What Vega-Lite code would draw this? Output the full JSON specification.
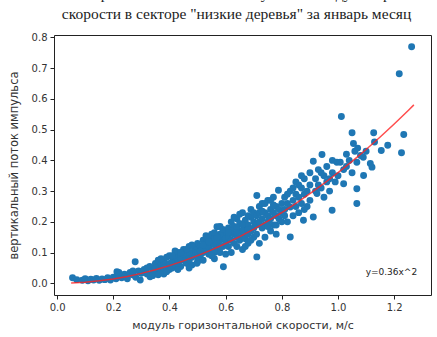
{
  "$schema": "https://vega.github.io/schema/vega-lite/v6.json",
  "autosize": {"type": "none"},
  "padding": {"left": 54, "top": 35, "right": 6, "bottom": 42},
  "width": 377,
  "height": 260,
  "background": "white",
  "title": {
    "text": ["Зависимость вертикального потока импульса от модуля горизонтальной", "скорости в секторе \"низкие деревья\" за январь месяц"],
    "font": "Liberation Serif",
    "fontSize": 15.5,
    "fontWeight": "normal",
    "color": "#222",
    "lineHeight": 20,
    "offset": 10,
    "dx": -6,
    "anchor": "middle"
  },
  "config": {
    "view": {"stroke": "#222", "strokeWidth": 1},
    "axis": {
      "grid": false,
      "domain": false,
      "tickColor": "#222",
      "tickSize": 4,
      "labelFont": "DejaVu Sans",
      "labelFontSize": 10,
      "labelColor": "#333",
      "labelPadding": 3,
      "labelOverlap": false,
      "titleFont": "DejaVu Sans",
      "titleFontSize": 11,
      "titleFontWeight": "normal",
      "titleColor": "#333"
    }
  },
  "datasets": {
    "pts": [
      {"x":0.055,"y":0.018},{"x":0.07,"y":0.012},{"x":0.09,"y":0.01},{"x":0.1,"y":0.015},{"x":0.11,"y":0.008},{"x":0.12,"y":0.013},{"x":0.13,"y":0.011},{"x":0.14,"y":0.016},{"x":0.15,"y":0.01},{"x":0.16,"y":0.014},{"x":0.17,"y":0.012},{"x":0.18,"y":0.018},{"x":0.19,"y":0.011},{"x":0.2,"y":0.02},{"x":0.21,"y":0.015},{"x":0.213,"y":0.038},
      {"x":0.22,"y":0.025},{"x":0.23,"y":0.018},{"x":0.24,"y":0.03},{"x":0.25,"y":0.022},{"x":0.26,"y":0.035},{"x":0.27,"y":0.028},{"x":0.278,"y":0.07},{"x":0.28,"y":0.02},{"x":0.29,"y":0.04},{"x":0.296,"y":0.011},{"x":0.3,"y":0.033},{"x":0.25,"y":0.015},{"x":0.27,"y":0.04},{"x":0.22,"y":0.035},
      {"x":0.31,"y":0.045},{"x":0.32,"y":0.03},{"x":0.331,"y":0.021},{"x":0.33,"y":0.055},{"x":0.34,"y":0.04},{"x":0.35,"y":0.065},{"x":0.35,"y":0.035},{"x":0.36,"y":0.05},{"x":0.36,"y":0.075},{"x":0.37,"y":0.045},{"x":0.37,"y":0.06},{"x":0.38,"y":0.03},{"x":0.38,"y":0.07},{"x":0.39,"y":0.055},{"x":0.39,"y":0.085},{"x":0.4,"y":0.045},{"x":0.4,"y":0.065},{"x":0.34,"y":0.025},{"x":0.36,"y":0.028},{"x":0.38,"y":0.05},{"x":0.32,"y":0.05},{"x":0.35,"y":0.05},{"x":0.37,"y":0.08},{"x":0.39,"y":0.038},{"x":0.4,"y":0.09},
      {"x":0.41,"y":0.07},{"x":0.41,"y":0.05},{"x":0.42,"y":0.085},{"x":0.42,"y":0.06},{"x":0.43,"y":0.1},{"x":0.43,"y":0.072},{"x":0.44,"y":0.055},{"x":0.44,"y":0.09},{"x":0.45,"y":0.08},{"x":0.45,"y":0.11},{"x":0.46,"y":0.065},{"x":0.46,"y":0.095},{"x":0.47,"y":0.075},{"x":0.47,"y":0.12},{"x":0.48,"y":0.085},{"x":0.48,"y":0.1},{"x":0.48,"y":0.06},{"x":0.49,"y":0.09},{"x":0.49,"y":0.115},{"x":0.5,"y":0.07},{"x":0.5,"y":0.1},{"x":0.5,"y":0.13},{"x":0.42,"y":0.105},{"x":0.44,"y":0.075},{"x":0.46,"y":0.08},{"x":0.47,"y":0.1},{"x":0.43,"y":0.065},{"x":0.45,"y":0.095},{"x":0.498,"y":0.065},{"x":0.41,"y":0.09},{"x":0.5,"y":0.085},{"x":0.46,"y":0.11},{"x":0.44,"y":0.1},{"x":0.48,"y":0.125},{"x":0.47,"y":0.05},{"x":0.43,"y":0.045},
      {"x":0.51,"y":0.09},{"x":0.51,"y":0.12},{"x":0.52,"y":0.1},{"x":0.52,"y":0.14},{"x":0.52,"y":0.075},{"x":0.53,"y":0.11},{"x":0.53,"y":0.13},{"x":0.54,"y":0.095},{"x":0.54,"y":0.15},{"x":0.54,"y":0.12},{"x":0.55,"y":0.105},{"x":0.55,"y":0.135},{"x":0.55,"y":0.16},{"x":0.56,"y":0.08},{"x":0.56,"y":0.125},{"x":0.56,"y":0.145},{"x":0.57,"y":0.11},{"x":0.569,"y":0.184},{"x":0.57,"y":0.13},{"x":0.58,"y":0.1},{"x":0.58,"y":0.14},{"x":0.58,"y":0.185},{"x":0.59,"y":0.12},{"x":0.59,"y":0.155},{"x":0.592,"y":0.054},{"x":0.6,"y":0.13},{"x":0.6,"y":0.165},{"x":0.6,"y":0.095},{"x":0.53,"y":0.155},{"x":0.56,"y":0.1},{"x":0.58,"y":0.16},{"x":0.51,"y":0.105},{"x":0.55,"y":0.09},{"x":0.57,"y":0.15},{"x":0.59,"y":0.175},{"x":0.6,"y":0.145},{"x":0.52,"y":0.125},{"x":0.54,"y":0.135},{"x":0.56,"y":0.165},{"x":0.58,"y":0.12},
      {"x":0.61,"y":0.12},{"x":0.61,"y":0.15},{"x":0.61,"y":0.18},{"x":0.62,"y":0.14},{"x":0.62,"y":0.2},{"x":0.62,"y":0.1},{"x":0.63,"y":0.16},{"x":0.63,"y":0.13},{"x":0.63,"y":0.185},{"x":0.64,"y":0.15},{"x":0.64,"y":0.21},{"x":0.64,"y":0.12},{"x":0.65,"y":0.17},{"x":0.65,"y":0.14},{"x":0.65,"y":0.195},{"x":0.66,"y":0.155},{"x":0.66,"y":0.23},{"x":0.66,"y":0.11},{"x":0.67,"y":0.175},{"x":0.67,"y":0.145},{"x":0.67,"y":0.205},{"x":0.68,"y":0.16},{"x":0.68,"y":0.19},{"x":0.68,"y":0.13},{"x":0.69,"y":0.215},{"x":0.69,"y":0.17},{"x":0.69,"y":0.24},{"x":0.7,"y":0.18},{"x":0.7,"y":0.15},{"x":0.7,"y":0.2},{"x":0.711,"y":0.286},{"x":0.711,"y":0.086},{"x":0.62,"y":0.17},{"x":0.64,"y":0.18},{"x":0.66,"y":0.19},{"x":0.68,"y":0.22},{"x":0.63,"y":0.215},{"x":0.65,"y":0.225},{"x":0.67,"y":0.12},{"x":0.69,"y":0.14},{"x":0.61,"y":0.165},{"x":0.7,"y":0.23},{"x":0.66,"y":0.17},{"x":0.64,"y":0.165},{"x":0.68,"y":0.175},
      {"x":0.71,"y":0.19},{"x":0.71,"y":0.22},{"x":0.71,"y":0.16},{"x":0.72,"y":0.2},{"x":0.72,"y":0.25},{"x":0.72,"y":0.13},{"x":0.73,"y":0.21},{"x":0.73,"y":0.18},{"x":0.73,"y":0.26},{"x":0.74,"y":0.19},{"x":0.74,"y":0.23},{"x":0.74,"y":0.15},{"x":0.75,"y":0.22},{"x":0.75,"y":0.27},{"x":0.75,"y":0.2},{"x":0.76,"y":0.17},{"x":0.76,"y":0.24},{"x":0.76,"y":0.21},{"x":0.77,"y":0.23},{"x":0.77,"y":0.28},{"x":0.77,"y":0.19},{"x":0.78,"y":0.22},{"x":0.78,"y":0.25},{"x":0.78,"y":0.16},{"x":0.788,"y":0.303},{"x":0.79,"y":0.21},{"x":0.79,"y":0.24},{"x":0.8,"y":0.2},{"x":0.8,"y":0.26},{"x":0.8,"y":0.23},{"x":0.72,"y":0.23},{"x":0.74,"y":0.26},{"x":0.76,"y":0.27},{"x":0.78,"y":0.19},{"x":0.75,"y":0.185},{"x":0.73,"y":0.235},{"x":0.77,"y":0.255},
      {"x":0.81,"y":0.24},{"x":0.81,"y":0.28},{"x":0.82,"y":0.2},{"x":0.82,"y":0.26},{"x":0.83,"y":0.248},{"x":0.83,"y":0.151},{"x":0.83,"y":0.3},{"x":0.84,"y":0.27},{"x":0.84,"y":0.22},{"x":0.85,"y":0.29},{"x":0.85,"y":0.25},{"x":0.85,"y":0.33},{"x":0.86,"y":0.23},{"x":0.86,"y":0.28},{"x":0.87,"y":0.26},{"x":0.87,"y":0.31},{"x":0.877,"y":0.205},{"x":0.88,"y":0.29},{"x":0.88,"y":0.34},{"x":0.89,"y":0.25},{"x":0.89,"y":0.3},{"x":0.9,"y":0.27},{"x":0.9,"y":0.32},{"x":0.9,"y":0.36},{"x":0.82,"y":0.29},{"x":0.84,"y":0.31},{"x":0.86,"y":0.32},{"x":0.88,"y":0.24},{"x":0.81,"y":0.22},{"x":0.87,"y":0.35},
      {"x":0.912,"y":0.397},{"x":0.912,"y":0.216},{"x":0.92,"y":0.3},{"x":0.92,"y":0.34},{"x":0.925,"y":0.292},{"x":0.93,"y":0.32},{"x":0.93,"y":0.37},{"x":0.943,"y":0.419},{"x":0.94,"y":0.31},{"x":0.95,"y":0.35},{"x":0.95,"y":0.28},{"x":0.96,"y":0.33},{"x":0.96,"y":0.38},{"x":0.97,"y":0.3},{"x":0.979,"y":0.238},{"x":0.98,"y":0.36},{"x":0.98,"y":0.4},{"x":0.99,"y":0.33},{"x":0.996,"y":0.394},{"x":1.0,"y":0.35},{"x":0.94,"y":0.36},{"x":0.97,"y":0.34},
      {"x":1.008,"y":0.394},{"x":1.012,"y":0.543},{"x":1.02,"y":0.324},{"x":1.02,"y":0.37},{"x":1.03,"y":0.42},{"x":1.03,"y":0.38},{"x":1.04,"y":0.4},{"x":1.05,"y":0.49},{"x":1.055,"y":0.455},{"x":1.06,"y":0.43},{"x":1.067,"y":0.394},{"x":1.067,"y":0.308},{"x":1.067,"y":0.26},{"x":1.08,"y":0.416},{"x":1.09,"y":0.41},{"x":1.091,"y":0.351},{"x":1.05,"y":0.36},{"x":1.07,"y":0.44},{"x":1.1,"y":0.43},
      {"x":1.115,"y":0.39},{"x":1.121,"y":0.378},{"x":1.127,"y":0.49},{"x":1.154,"y":0.432},{"x":1.177,"y":0.449},{"x":1.226,"y":0.425},{"x":1.234,"y":0.484},{"x":1.218,"y":0.682},{"x":1.262,"y":0.77},{"x":1.13,"y":0.46}
    ],
    "fit": [
      {"x":0.05,"y":0.0009},{"x":0.1,"y":0.0036},{"x":0.15,"y":0.0081},{"x":0.2,"y":0.0144},{"x":0.25,"y":0.0225},{"x":0.3,"y":0.0324},{"x":0.35,"y":0.0441},{"x":0.4,"y":0.0576},{"x":0.45,"y":0.0729},{"x":0.5,"y":0.09},{"x":0.55,"y":0.1089},{"x":0.6,"y":0.1296},{"x":0.65,"y":0.1521},{"x":0.7,"y":0.1764},{"x":0.75,"y":0.2025},{"x":0.8,"y":0.2304},{"x":0.85,"y":0.2601},{"x":0.9,"y":0.2916},{"x":0.95,"y":0.3249},{"x":1.0,"y":0.36},{"x":1.05,"y":0.3969},{"x":1.1,"y":0.4356},{"x":1.15,"y":0.4761},{"x":1.2,"y":0.5184},{"x":1.25,"y":0.5625},{"x":1.27,"y":0.5806}
    ],
    "note": [{"x":1.19,"y":0.037,"label":"y=0.36x^2"}]
  },
  "encoding": {
    "x": {"field": "x", "type": "quantitative", "scale": {"domain": [-0.011, 1.331], "nice": false, "zero": false},
          "axis": {"values": [0, 0.2, 0.4, 0.6, 0.8, 1.0, 1.2], "format": ".1f", "title": "модуль горизонтальной скорости,  м/с", "titlePadding": 7}},
    "y": {"field": "y", "type": "quantitative", "scale": {"domain": [-0.038, 0.808], "nice": false, "zero": false},
          "axis": {"values": [0, 0.1, 0.2, 0.3, 0.4, 0.5, 0.6, 0.7, 0.8], "format": ".1f", "title": "вертикальный поток импульса", "titlePadding": 12, "titleFontSize": 11.5}}
  },
  "layer": [
    {
      "data": {"name": "pts"},
      "mark": {"type": "circle", "size": 48, "color": "#1f77b4", "opacity": 1}
    },
    {
      "data": {"name": "fit"},
      "mark": {"type": "line", "color": "#ff2020", "strokeWidth": 1.5, "opacity": 0.8}
    },
    {
      "data": {"name": "note"},
      "mark": {"type": "text", "font": "DejaVu Sans", "fontSize": 9, "color": "#222", "align": "center", "baseline": "middle"},
      "encoding": {
        "text": {"field": "label"}
      }
    }
  ]
}
